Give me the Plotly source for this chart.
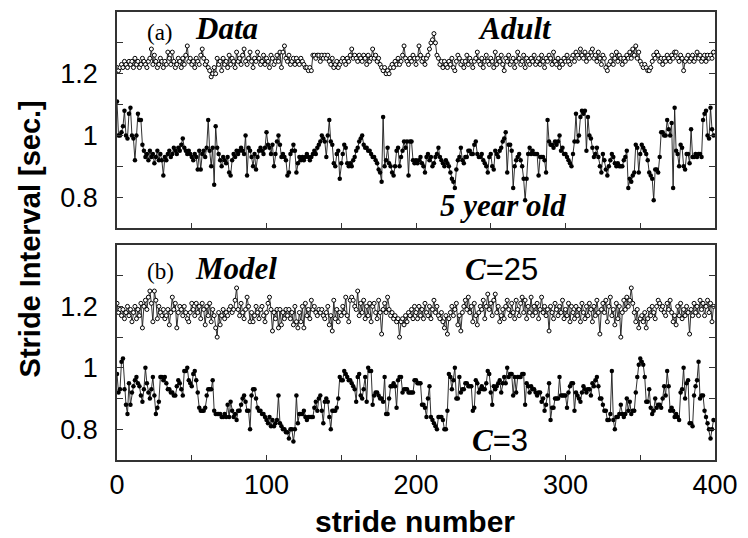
import plotly.graph_objects as go

stride = list(range(400))

adult = [
1.22,1.21,1.22,1.23,1.22,1.24,1.23,1.22,1.24,1.23,1.24,1.22,1.25,1.23,1.24,1.22,1.23,1.25,1.24,1.23,
1.22,1.24,1.25,1.28,1.23,1.26,1.24,1.22,1.23,1.25,1.24,1.22,1.24,1.23,1.27,1.25,1.23,1.27,1.24,1.22,
1.23,1.25,1.24,1.22,1.25,1.23,1.26,1.29,1.24,1.25,1.23,1.24,1.22,1.25,1.24,1.23,1.26,1.28,1.25,1.23,
1.24,1.22,1.21,1.19,1.20,1.22,1.20,1.25,1.23,1.24,1.21,1.25,1.23,1.24,1.22,1.26,1.23,1.25,1.24,1.22,
1.27,1.24,1.25,1.23,1.26,1.28,1.24,1.23,1.25,1.27,1.24,1.22,1.25,1.24,1.27,1.25,1.23,1.24,1.26,1.23,
1.25,1.24,1.22,1.26,1.25,1.23,1.24,1.26,1.24,1.27,1.22,1.27,1.29,1.25,1.24,1.26,1.23,1.24,1.25,1.23,
1.25,1.24,1.23,1.25,1.24,1.23,1.22,1.22,1.21,1.22,1.21,1.26,1.26,1.25,1.26,1.26,1.24,1.26,1.25,1.26,
1.25,1.26,1.24,1.23,1.25,1.22,1.23,1.24,1.22,1.23,1.24,1.25,1.24,1.23,1.25,1.24,1.26,1.28,1.25,1.26,
1.25,1.24,1.26,1.25,1.24,1.26,1.25,1.23,1.26,1.24,1.25,1.28,1.25,1.26,1.24,1.25,1.23,1.22,1.21,1.22,
1.20,1.21,1.20,1.22,1.23,1.22,1.24,1.23,1.25,1.23,1.24,1.26,1.29,1.25,1.24,1.23,1.25,1.24,1.26,1.25,
1.23,1.25,1.29,1.26,1.24,1.25,1.23,1.25,1.26,1.28,1.30,1.31,1.33,1.30,1.26,1.25,1.23,1.24,1.22,1.24,
1.23,1.22,1.24,1.23,1.25,1.22,1.21,1.24,1.26,1.25,1.23,1.24,1.22,1.24,1.26,1.23,1.25,1.24,1.22,1.24,
1.25,1.27,1.24,1.23,1.25,1.22,1.24,1.26,1.24,1.23,1.25,1.24,1.22,1.27,1.23,1.25,1.24,1.26,1.23,1.21,
1.25,1.24,1.26,1.23,1.24,1.25,1.22,1.24,1.27,1.25,1.23,1.24,1.26,1.22,1.25,1.24,1.23,1.25,1.24,1.26,
1.23,1.24,1.25,1.23,1.26,1.24,1.22,1.25,1.24,1.26,1.25,1.23,1.27,1.24,1.23,1.25,1.22,1.24,1.23,1.25,
1.24,1.26,1.24,1.23,1.25,1.26,1.24,1.27,1.26,1.25,1.28,1.26,1.25,1.27,1.24,1.26,1.25,1.27,1.28,1.25,
1.26,1.24,1.27,1.25,1.23,1.26,1.25,1.22,1.21,1.23,1.24,1.26,1.23,1.25,1.27,1.24,1.26,1.25,1.23,1.25,
1.24,1.26,1.25,1.27,1.25,1.28,1.26,1.29,1.25,1.27,1.24,1.23,1.22,1.23,1.22,1.21,1.21,1.22,1.24,1.26,
1.25,1.27,1.26,1.24,1.25,1.23,1.25,1.24,1.26,1.25,1.24,1.26,1.25,1.27,1.27,1.25,1.24,1.26,1.25,1.21,
1.24,1.25,1.26,1.24,1.25,1.26,1.24,1.25,1.27,1.25,1.26,1.24,1.25,1.26,1.24,1.26,1.25,1.26,1.25,1.27,
]

child = [
1.11,1.00,1.00,1.01,1.03,1.08,1.00,0.99,1.07,1.09,1.00,0.99,0.92,1.00,1.07,1.05,1.05,0.97,0.95,0.93,
0.94,0.92,0.95,0.93,0.94,0.91,0.93,0.95,0.92,0.94,0.92,0.87,0.93,0.92,0.94,0.95,0.93,0.94,0.96,0.95,
0.94,0.96,0.95,0.97,0.99,0.96,0.95,0.94,0.95,0.94,0.93,0.92,0.94,0.93,0.89,0.95,0.89,0.94,0.95,0.93,
0.96,1.05,0.95,0.90,0.96,0.84,1.03,0.96,0.94,0.92,0.90,0.93,0.92,0.91,0.93,0.88,0.87,0.92,0.94,0.93,
0.95,0.94,0.95,0.96,0.95,0.94,1.00,0.87,0.96,0.95,0.93,0.90,0.94,0.89,0.93,0.95,0.96,0.95,0.94,0.96,
1.01,0.97,0.96,0.94,0.97,0.90,0.94,0.98,1.00,0.97,0.93,0.94,0.93,0.92,0.87,0.88,0.94,0.95,0.97,0.95,
0.88,0.91,0.93,0.92,0.93,0.92,0.93,0.94,0.93,0.92,0.93,0.94,0.95,0.94,0.96,0.97,0.98,1.00,0.99,0.98,
0.93,1.00,1.05,0.98,0.97,0.91,0.90,0.94,0.95,0.86,0.91,0.94,0.97,0.96,0.91,0.90,0.91,0.90,0.92,0.93,
0.95,0.96,0.98,0.99,1.00,0.97,0.96,0.96,0.95,0.95,0.94,0.93,0.93,0.92,0.91,0.89,0.88,0.85,1.06,0.90,
0.92,0.96,0.91,0.90,0.88,0.87,0.90,0.95,0.96,0.90,0.93,0.95,0.98,0.96,0.98,0.87,0.98,0.98,0.92,0.91,
0.92,0.91,0.92,0.93,0.91,0.90,0.88,0.93,0.94,0.92,0.93,0.90,0.91,0.93,0.94,0.96,0.93,0.92,0.91,0.90,
0.92,0.91,0.90,0.88,0.86,0.85,0.83,0.89,0.92,0.93,0.96,0.92,0.91,0.93,0.93,0.95,0.95,0.94,0.94,0.97,
0.98,0.94,0.93,0.93,0.94,0.92,0.91,0.90,0.88,0.93,0.94,0.90,0.89,0.95,0.94,0.93,0.95,0.96,0.98,0.99,
1.01,0.88,0.97,0.97,0.95,0.83,0.90,0.92,0.93,0.94,0.92,0.90,0.86,0.79,0.86,0.94,0.96,0.94,0.95,0.94,
0.94,0.94,0.87,0.93,0.93,0.93,0.92,0.88,1.05,0.98,0.97,0.97,0.96,0.98,0.97,0.98,1.00,0.95,0.96,0.94,
0.94,0.93,0.92,0.91,0.90,0.94,0.98,1.07,0.98,1.00,1.06,1.08,1.07,1.08,0.95,1.06,1.00,0.99,0.96,0.93,
0.94,0.96,0.93,0.90,0.88,0.94,0.92,0.89,0.87,0.90,0.92,0.94,0.93,0.91,0.90,0.91,0.90,0.90,0.90,0.92,
0.93,0.95,0.83,0.86,0.85,0.87,0.88,0.97,0.96,0.88,0.94,0.97,0.96,0.95,0.94,0.92,0.88,0.87,0.86,0.79,
0.89,0.89,0.88,0.93,1.01,1.01,1.00,1.00,1.05,1.02,1.00,1.04,0.83,1.09,0.95,0.94,0.90,0.97,0.96,0.90,
0.89,0.94,0.94,0.91,1.02,0.93,0.93,0.94,0.93,0.94,0.94,0.93,1.05,1.07,1.08,1.00,0.99,1.09,1.02,1.00,
]

model_c25 = [
1.21,1.18,1.19,1.17,1.19,1.16,1.18,1.20,1.17,1.19,1.15,1.18,1.20,1.16,1.19,1.17,1.21,1.13,1.20,1.22,
1.19,1.23,1.25,1.21,1.15,1.25,1.22,1.16,1.20,1.18,1.17,1.19,1.16,1.17,1.19,1.14,1.18,1.23,1.19,1.21,
1.13,1.18,1.20,1.19,1.17,1.20,1.18,1.16,1.15,1.18,1.21,1.19,1.17,1.21,1.18,1.20,1.16,1.21,1.19,1.14,
1.20,1.17,1.21,1.15,1.19,1.17,1.13,1.10,1.18,1.14,1.17,1.19,1.16,1.18,1.17,1.19,1.20,1.18,1.19,1.22,
1.26,1.19,1.17,1.21,1.18,1.16,1.19,1.23,1.20,1.15,1.18,1.15,1.17,1.20,1.18,1.16,1.19,1.20,1.17,1.15,
1.18,1.21,1.23,1.19,1.12,1.18,1.16,1.19,1.13,1.19,1.14,1.18,1.16,1.19,1.17,1.19,1.16,1.18,1.14,1.20,
1.15,1.13,1.18,1.15,1.20,1.13,1.21,1.17,1.19,1.16,1.22,1.19,1.20,1.18,1.17,1.19,1.18,1.19,1.17,1.16,
1.18,1.20,1.14,1.17,1.12,1.22,1.16,1.19,1.15,1.18,1.17,1.20,1.18,1.23,1.17,1.15,1.22,1.23,1.22,1.20,
1.19,1.25,1.17,1.21,1.18,1.22,1.16,1.20,1.17,1.21,1.15,1.20,1.21,1.18,1.16,1.22,1.18,1.11,1.19,1.21,
1.18,1.23,1.19,1.17,1.18,1.16,1.17,1.15,1.16,1.10,1.15,1.16,1.14,1.17,1.15,1.18,1.17,1.19,1.16,1.20,
1.18,1.16,1.20,1.17,1.19,1.16,1.21,1.18,1.17,1.20,1.16,1.19,1.22,1.18,1.20,1.17,1.16,1.18,1.15,1.13,
1.17,1.11,1.16,1.18,1.20,1.17,1.19,1.21,1.14,1.17,1.12,1.18,1.20,1.22,1.19,1.23,1.18,1.20,1.15,1.21,
1.17,1.14,1.18,1.20,1.19,1.22,1.16,1.20,1.24,1.19,1.21,1.17,1.22,1.24,1.18,1.20,1.15,1.17,1.19,1.16,
1.20,1.22,1.19,1.17,1.21,1.18,1.16,1.22,1.19,1.17,1.21,1.23,1.18,1.22,1.16,1.20,1.18,1.23,1.17,1.20,
1.18,1.21,1.16,1.19,1.23,1.18,1.20,1.17,1.19,1.12,1.20,1.18,1.16,1.21,1.19,1.17,1.20,1.18,1.22,1.16,
1.19,1.17,1.21,1.15,1.20,1.18,1.16,1.20,1.17,1.19,1.15,1.21,1.18,1.16,1.20,1.17,1.21,1.19,1.15,1.20,
1.17,1.22,1.18,1.11,1.19,1.21,1.18,1.22,1.15,1.20,1.23,1.17,1.19,1.14,1.21,1.16,1.20,1.10,1.18,1.22,
1.19,1.23,1.20,1.22,1.26,1.21,1.18,1.15,1.19,1.13,1.16,1.17,1.15,1.18,1.13,1.16,1.19,1.17,1.20,1.18,
1.16,1.20,1.22,1.21,1.19,1.20,1.18,1.17,1.21,1.19,1.22,1.18,1.15,1.17,1.14,1.20,1.17,1.21,1.16,1.19,
1.17,1.20,1.18,1.11,1.19,1.17,1.21,1.18,1.20,1.17,1.22,1.19,1.21,1.17,1.20,1.22,1.18,1.21,1.15,1.20,
]

model_c3 = [
0.98,0.92,0.93,1.02,1.03,0.93,0.88,0.85,0.95,0.88,0.92,0.94,0.96,0.97,0.95,0.94,0.91,0.89,0.93,1.00,
0.95,0.92,0.90,0.93,0.97,0.91,0.85,0.87,0.89,0.97,0.97,0.96,0.97,0.95,0.93,0.93,0.92,0.92,0.91,0.91,
0.94,0.96,0.95,0.93,0.91,0.99,0.99,1.00,0.96,0.95,0.94,0.98,0.99,0.96,0.92,0.87,0.86,0.86,0.86,0.87,
0.91,0.93,0.93,0.93,0.96,0.86,0.85,0.85,0.85,0.85,0.84,0.84,0.85,0.84,0.88,0.84,0.89,0.86,0.84,0.85,
0.83,0.86,0.86,0.88,0.90,0.91,0.89,0.86,0.86,0.80,0.91,0.93,0.93,0.90,0.87,0.86,0.86,0.85,0.85,0.84,
0.83,0.82,0.84,0.81,0.83,0.81,0.82,0.83,0.91,0.82,0.81,0.80,0.80,0.79,0.79,0.77,0.80,0.80,0.76,0.80,
0.91,0.82,0.85,0.85,0.85,0.86,0.84,0.83,0.84,0.84,0.84,0.84,0.87,0.89,0.86,0.90,0.91,0.86,0.82,0.89,
0.90,0.89,0.84,0.80,0.86,0.86,0.86,0.87,0.90,0.97,0.96,0.96,0.99,0.98,0.97,0.96,0.96,0.95,0.94,0.93,
0.89,0.97,0.98,0.91,0.90,0.93,0.97,0.89,1.00,0.99,0.99,0.88,0.91,0.92,0.92,0.91,0.90,0.90,0.89,0.97,
0.85,0.85,0.90,0.94,0.94,0.95,0.94,0.87,0.96,0.97,0.97,0.92,0.93,0.93,0.93,0.92,0.92,0.92,0.92,0.96,
0.96,0.95,0.95,0.95,0.88,0.88,0.87,0.84,0.90,0.94,0.84,0.83,0.82,0.81,0.80,0.84,0.84,0.84,0.83,0.80,
0.80,0.86,0.98,0.97,0.93,0.96,1.00,0.90,0.90,0.97,0.92,0.93,0.93,0.95,0.95,0.94,0.94,0.94,0.86,0.87,
0.96,0.95,0.92,0.93,0.94,0.93,0.93,0.95,0.99,0.98,0.92,0.88,0.94,0.93,0.94,0.95,0.96,0.92,0.95,0.97,
0.95,1.00,0.97,0.98,0.98,0.91,0.97,0.92,0.97,0.97,0.97,0.98,0.98,0.88,0.95,0.94,0.92,0.94,0.93,0.93,
0.92,0.91,0.92,0.92,0.89,0.90,0.86,0.88,0.91,0.95,0.83,0.87,0.87,0.90,0.90,0.90,0.97,0.91,0.91,0.91,
0.91,0.87,0.92,0.94,0.95,0.95,0.86,0.92,0.91,0.90,0.89,0.92,0.94,0.93,0.92,0.93,0.93,0.91,0.95,0.94,
0.96,0.97,0.94,0.90,0.90,0.88,0.86,0.86,0.83,0.83,0.85,0.99,0.83,0.80,0.84,0.84,0.85,0.88,0.85,0.84,
0.85,0.90,0.86,0.89,0.85,0.86,0.86,0.92,0.97,1.01,1.03,1.02,1.01,0.97,0.89,0.89,0.93,0.87,0.85,0.86,
0.90,0.87,0.88,0.88,0.87,0.90,0.94,0.91,0.99,0.94,0.86,0.87,0.86,0.84,0.85,0.84,0.83,0.92,0.93,1.00,
0.90,0.95,0.96,0.82,0.82,0.81,0.91,0.94,0.96,1.02,0.90,0.91,0.91,0.86,0.84,0.82,0.80,0.77,0.80,0.83,
]

x_ticks = [0, 50, 100, 150, 200, 250, 300, 350, 400]
x_ticktext = ["0", "", "100", "", "200", "", "300", "", "400"]
y_ticks = [0.8, 0.9, 1.0, 1.1, 1.2, 1.3]
y_ticktext = ["0.8", "", "1", "", "1.2", ""]

LINE = "#1a1a1a"
open_marker = dict(symbol="circle", size=4, color="white", line=dict(color="black", width=1))
fill_marker = dict(symbol="circle", size=4.5, color="black", line=dict(color="black", width=0))

fig = go.Figure()
fig.add_trace(go.Scatter(x=stride, y=adult, mode="lines+markers", line=dict(color=LINE, width=0.9),
                         marker=open_marker, xaxis="x", yaxis="y", showlegend=False))
fig.add_trace(go.Scatter(x=stride, y=child, mode="lines+markers", line=dict(color=LINE, width=0.9),
                         marker=fill_marker, xaxis="x", yaxis="y", showlegend=False))
fig.add_trace(go.Scatter(x=stride, y=model_c25, mode="lines+markers", line=dict(color=LINE, width=0.9),
                         marker=open_marker, xaxis="x2", yaxis="y2", showlegend=False))
fig.add_trace(go.Scatter(x=stride, y=model_c3, mode="lines+markers", line=dict(color=LINE, width=0.9),
                         marker=fill_marker, xaxis="x2", yaxis="y2", showlegend=False))

axis_line = dict(showline=True, linecolor="#333", linewidth=1.5, mirror=True,
                 showgrid=False, zeroline=False, ticks="inside", tickcolor="#333", tickwidth=1)
tick_font = dict(family="Liberation Sans, Arial", size=27, color="black")

fig.update_layout(
    width=748, height=538,
    margin=dict(l=117, r=23, t=10, b=78),
    paper_bgcolor="white", plot_bgcolor="white",
    xaxis=dict(domain=[0, 1], range=[0, 400], anchor="y", tickvals=x_ticks,
               ticktext=[""] * len(x_ticks), ticklen=5, **axis_line),
    yaxis=dict(domain=[0.5178, 1], range=[0.7, 1.4], anchor="x", tickvals=y_ticks,
               ticktext=y_ticktext, ticklen=6, tickfont=tick_font, ticklabelstandoff=12,
               **{**axis_line, "mirror": "ticks"}),
    xaxis2=dict(domain=[0, 1], range=[0, 400], anchor="y2", tickvals=x_ticks,
                ticktext=x_ticktext, ticklen=5, tickfont=tick_font, ticklabelstandoff=0,
                **axis_line),
    yaxis2=dict(domain=[0, 0.48], range=[0.7, 1.4], anchor="x2", tickvals=y_ticks,
                ticktext=y_ticktext, ticklen=6, tickfont=tick_font, ticklabelstandoff=12,
                **{**axis_line, "mirror": "ticks"}),
)

serif_bi = dict(family="Liberation Serif, Times New Roman", size=31, color="black")

def ann(text, x, y, font, xref="paper", yref="paper", **kw):
    fig.add_annotation(text=text, x=x, y=y, xref=xref, yref=yref, showarrow=False,
                       font=font, xanchor="center", yanchor="middle", **kw)

# convert pixel positions to paper coords
def px(xp):
    return (xp - 117) / 608.0

def py(yp):
    return 1 - (yp - 10) / 450.0

ann("(a)", px(161), py(31), dict(family="Liberation Serif, Times New Roman", size=23, color="black"))
ann("<b><i>Data</i></b>", px(228), py(27), serif_bi)
ann("<b><i>Adult</i></b>", px(522), py(27), serif_bi)
ann("<b><i>5 year old</i></b>", px(509), py(204), serif_bi)
ann("(b)", px(161), py(271), dict(family="Liberation Serif, Times New Roman", size=23, color="black"))
ann("<b><i>Model</i></b>", px(238), py(268), serif_bi)
ann("<b><i>C</i></b><span style='font-family:Liberation Sans, Arial'>=25</span>", px(508), py(269), serif_bi)
ann("<b><i>C</i></b><span style='font-family:Liberation Sans, Arial'>=3</span>", px(506), py(440), serif_bi)

ann("<b>Stride Interval [sec.]</b>", px(29), py(238),
    dict(family="Liberation Sans, Arial", size=29, color="black"), textangle=-90)
ann("<b>stride number</b>", px(420), py(522),
    dict(family="Liberation Sans, Arial", size=30, color="black"))

fig.write_html("out.html", config={"displayModeBar": False},
               post_script="document.body.style.margin='0';")
